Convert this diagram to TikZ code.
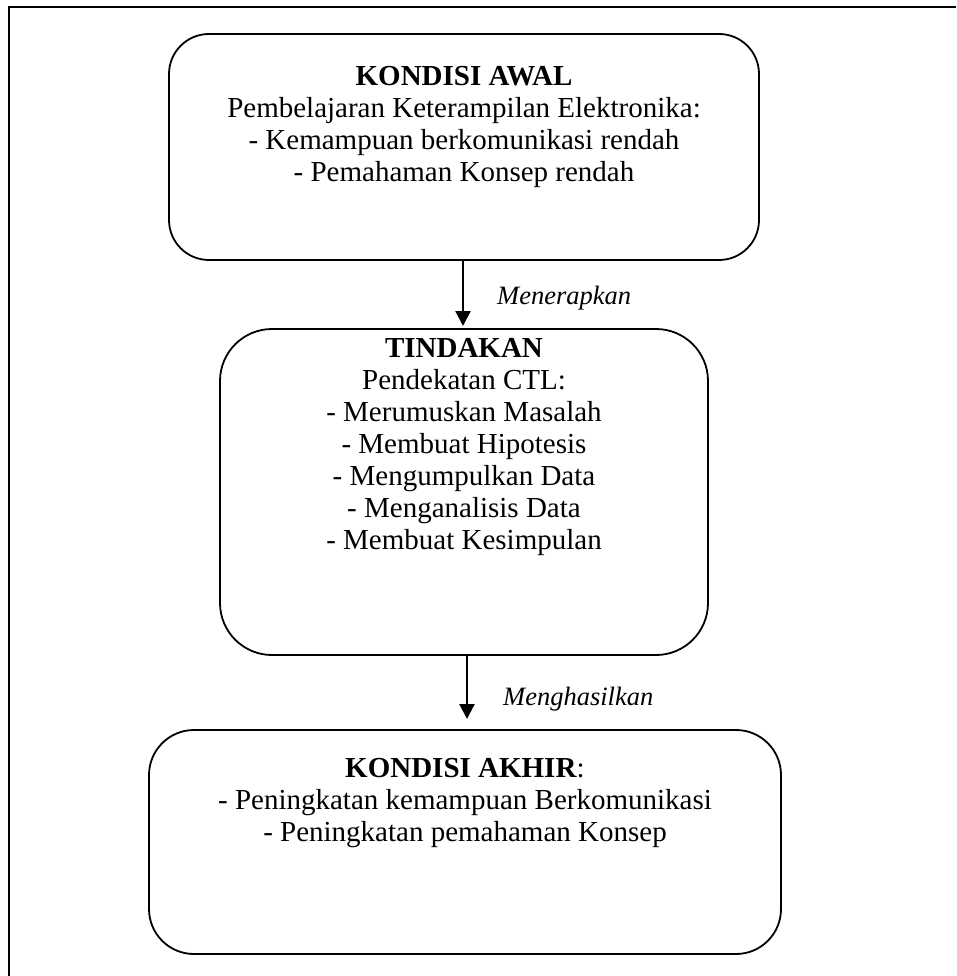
\documentclass[tikz,border=0pt]{standalone}
\usepackage{fontspec}
\setmainfont{Liberation Serif}
\usetikzlibrary{arrows.meta,calc}
\tikzset{
  box/.style={draw, line width=1.8pt, rounded corners=#1, inner sep=0pt},
  box/.default=40pt,
  txt/.style={anchor=north, align=center, inner sep=0pt, font=\fontsize{29}{32}\selectfont},
  lbl/.style={anchor=base west, inner sep=0pt, font=\fontsize{26.5}{32}\selectfont\itshape},
  arr/.style={line width=2.2pt, -{Triangle[width=15pt,length=15pt]}},
}
\begin{document}
\begin{tikzpicture}[x=1pt,y=-1pt]
\useasboundingbox (0,0) rectangle (956,976);
% outer frame (top and left only)
\coordinate (ftl) at (9,7);
\coordinate (ftr) at (956,7);
\coordinate (fbl) at (9,976);
\draw[line width=2.4pt] (ftr) -- (ftl) -- (fbl);
% boxes
\node[box=40pt, minimum width=590pt, minimum height=226pt] (b1) at (464,147) {};
\node[box=52pt, minimum width=488pt, minimum height=326pt] (b2) at (464,492) {};
\node[box=45pt, minimum width=632pt, minimum height=224pt] (b3) at (465,842) {};
% texts
\node[txt] (t1) at (464,66) {\textbf{KONDISI AWAL}\\Pembelajaran Keterampilan Elektronika:\\- Kemampuan berkomunikasi rendah\\- Pemahaman Konsep rendah};
\node[txt] (t2) at (464,338) {\textbf{TINDAKAN}\\Pendekatan CTL:\\- Merumuskan Masalah\\- Membuat Hipotesis\\- Mengumpulkan Data\\- Menganalisis Data\\- Membuat Kesimpulan};
\node[txt] (t3) at (465,758) {\textbf{KONDISI AKHIR}:\\- Peningkatan kemampuan Berkomunikasi\\- Peningkatan pemahaman Konsep};
% arrows
\coordinate (a1e) at (463,326);
\coordinate (a2e) at (467,719);
\draw[arr] (b1.south -| a1e) -- (a1e);
\draw[arr] (b2.south -| a2e) -- (a2e);
\node[lbl] (l1) at (497,304) {Menerapkan};
\node[lbl] (l2) at (503,705) {Menghasilkan};
\end{tikzpicture}
\end{document}
